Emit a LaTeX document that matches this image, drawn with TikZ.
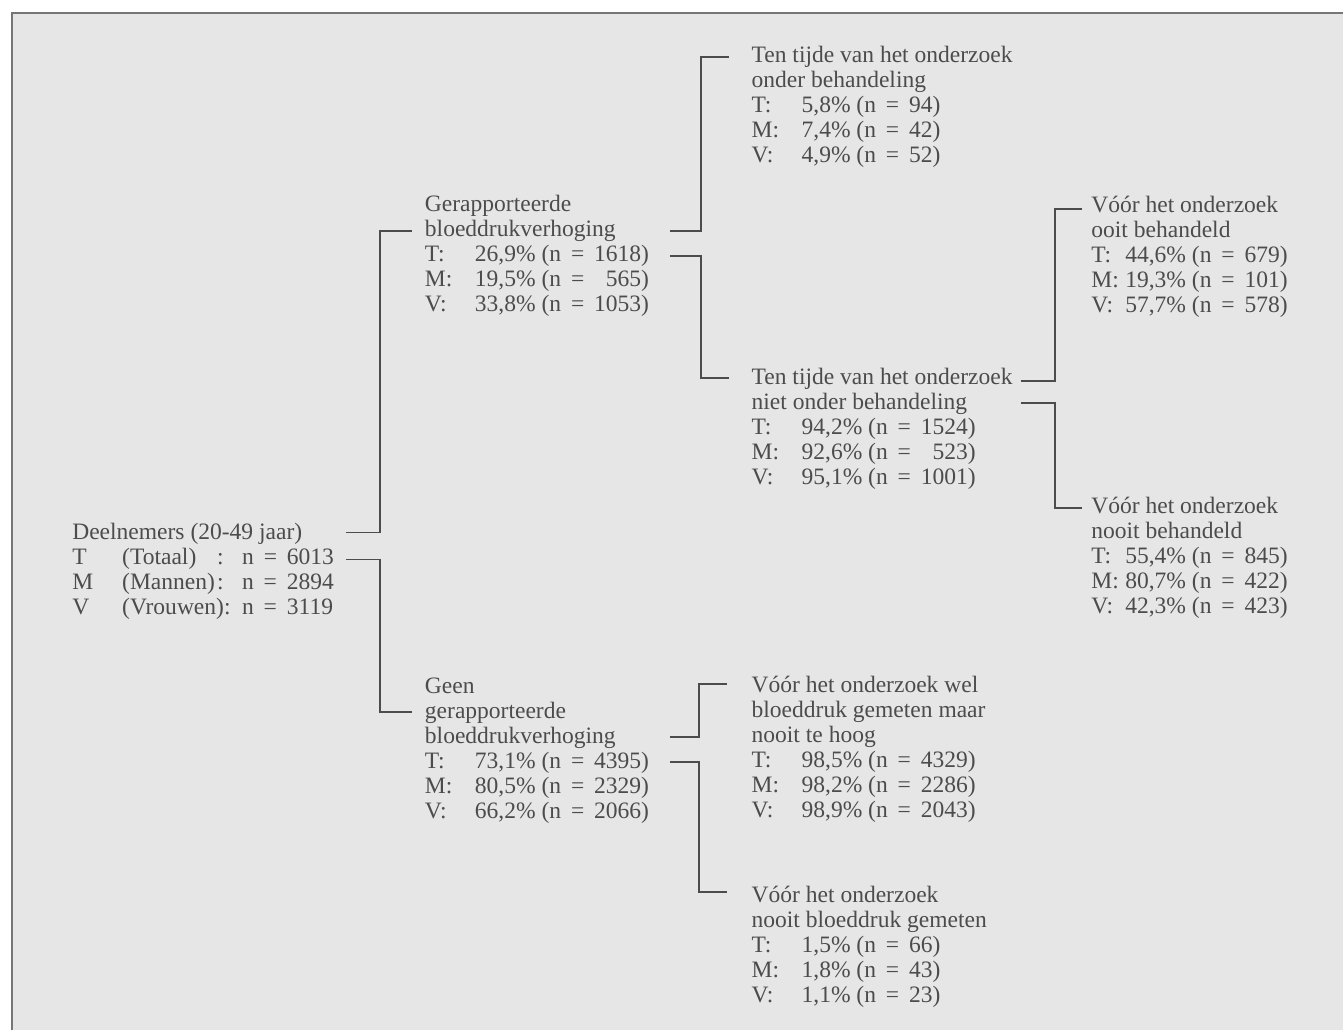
\documentclass[tikz,border=0pt]{standalone}
\usepackage{fontspec}
\setmainfont{Liberation Serif}
\usetikzlibrary{calc}

\definecolor{papier}{HTML}{E6E6E6}
\definecolor{inkt}{HTML}{4C4C4C}
\definecolor{rand}{HTML}{767676}

% one data row: label in a fixed-width box, then the figures
\newcommand{\rij}[3][1cm]{\makebox[#1][l]{#2}#3}
\newcommand{\is}{\hspace{0.42em}=\hspace{0.42em}}

\tikzset{
    blok/.style={anchor=base west, inner sep=0pt, text=inkt,
        font=\fontsize{13.4}{14.226}\selectfont},
    lijn/.style={draw=inkt, line width=1.1pt}
}

\begin{document}
\begin{tikzpicture}[x=0.02cm, y=-0.02cm]
    % page and frame
    \fill[white] (0, 0) rectangle (1344, 1031);
    \fill[papier] (12, 13) rectangle (1344, 1031);
    \draw[rand, line width=1.4pt] (12, 1031) -- (12, 13) -- (1344, 13);

    \node[blok] (root) at (72, 540) {\begin{tabular}[t]{@{}l@{}}
        Deelnemers (20-49 jaar)\\
        \makebox[1cm][l]{T}\makebox[1.9cm][l]{(Totaal)}\makebox[0.5cm][l]{:}n\is 6013\\
        \makebox[1cm][l]{M}\makebox[1.9cm][l]{(Mannen)}\makebox[0.5cm][l]{:}n\is 2894\\
        \makebox[1cm][l]{V}\makebox[1.9cm][l]{(Vrouwen):}\makebox[0.5cm][l]{}n\is 3119
    \end{tabular}};

    \node[blok] (ger) at (425, 212) {\begin{tabular}[t]{@{}l@{}}
        Gerapporteerde\\
        bloeddrukverhoging\\
        \rij{T:}{26,9\% (n\is 1618)}\\
        \rij{M:}{19,5\% (n\is \phantom{0}565)}\\
        \rij{V:}{33,8\% (n\is 1053)}
    \end{tabular}};

    \node[blok] (geen) at (425, 694) {\begin{tabular}[t]{@{}l@{}}
        Geen\\
        gerapporteerde\\
        bloeddrukverhoging\\
        \rij{T:}{73,1\% (n\is 4395)}\\
        \rij{M:}{80,5\% (n\is 2329)}\\
        \rij{V:}{66,2\% (n\is 2066)}
    \end{tabular}};

    \node[blok] (ten) at (752, 63) {\begin{tabular}[t]{@{}l@{}}
        Ten tijde van het onderzoek\\
        onder behandeling\\
        \rij{T:}{5,8\% (n\is 94)}\\
        \rij{M:}{7,4\% (n\is 42)}\\
        \rij{V:}{4,9\% (n\is 52)}
    \end{tabular}};

    \node[blok] (niet) at (752, 385) {\begin{tabular}[t]{@{}l@{}}
        Ten tijde van het onderzoek\\
        niet onder behandeling\\
        \rij{T:}{94,2\% (n\is 1524)}\\
        \rij{M:}{92,6\% (n\is \phantom{0}523)}\\
        \rij{V:}{95,1\% (n\is 1001)}
    \end{tabular}};

    \node[blok] (wel) at (752, 693) {\begin{tabular}[t]{@{}l@{}}
        Vóór het onderzoek wel\\
        bloeddruk gemeten maar\\
        nooit te hoog\\
        \rij{T:}{98,5\% (n\is 4329)}\\
        \rij{M:}{98,2\% (n\is 2286)}\\
        \rij{V:}{98,9\% (n\is 2043)}
    \end{tabular}};

    \node[blok] (nooitbd) at (752, 903) {\begin{tabular}[t]{@{}l@{}}
        Vóór het onderzoek\\
        nooit bloeddruk gemeten\\
        \rij{T:}{1,5\% (n\is 66)}\\
        \rij{M:}{1,8\% (n\is 43)}\\
        \rij{V:}{1,1\% (n\is 23)}
    \end{tabular}};

    \node[blok] (ooit) at (1092, 213) {\begin{tabular}[t]{@{}l@{}}
        Vóór het onderzoek\\
        ooit behandeld\\
        \rij[0.68cm]{T:}{44,6\% (n\is 679)}\\
        \rij[0.68cm]{M:}{19,3\% (n\is 101)}\\
        \rij[0.68cm]{V:}{57,7\% (n\is 578)}
    \end{tabular}};

    \node[blok] (nooit) at (1092, 514) {\begin{tabular}[t]{@{}l@{}}
        Vóór het onderzoek\\
        nooit behandeld\\
        \rij[0.68cm]{T:}{55,4\% (n\is 845)}\\
        \rij[0.68cm]{M:}{80,7\% (n\is 422)}\\
        \rij[0.68cm]{V:}{42,3\% (n\is 423)}
    \end{tabular}};

    % brackets
    \draw[lijn] ($(root.base east)+(12,-7)$) -| ($(ger.base west)+(-45,19)$) -- +(32,0);
    \draw[lijn] ($(root.base east)+(12,20)$) -| ($(geen.base west)+(-45,19)$) -- +(32,0);
    \draw[lijn] ($(ger.base east)+(21,19)$) -| ($(ten.base west)+(-50,-6)$) -- +(28,0);
    \draw[lijn] ($(ger.base east)+(21,44)$) -| ($(niet.base west)+(-50,-7)$) -- +(28,0);
    \draw[lijn] ($(niet.base east)+(8,-4)$) -| ($(ooit.base west)+(-36,-4)$) -- +(27,0);
    \draw[lijn] ($(niet.base east)+(8,18)$) -| ($(nooit.base west)+(-36,-6)$) -- +(27,0);
    \draw[lijn] ($(geen.base east)+(21,44)$) -| ($(wel.base west)+(-52,-8)$) -- +(28,0);
    \draw[lijn] ($(geen.base east)+(21,69)$) -| ($(nooitbd.base west)+(-52,-10)$) -- +(28,0);
\end{tikzpicture}
\end{document}
